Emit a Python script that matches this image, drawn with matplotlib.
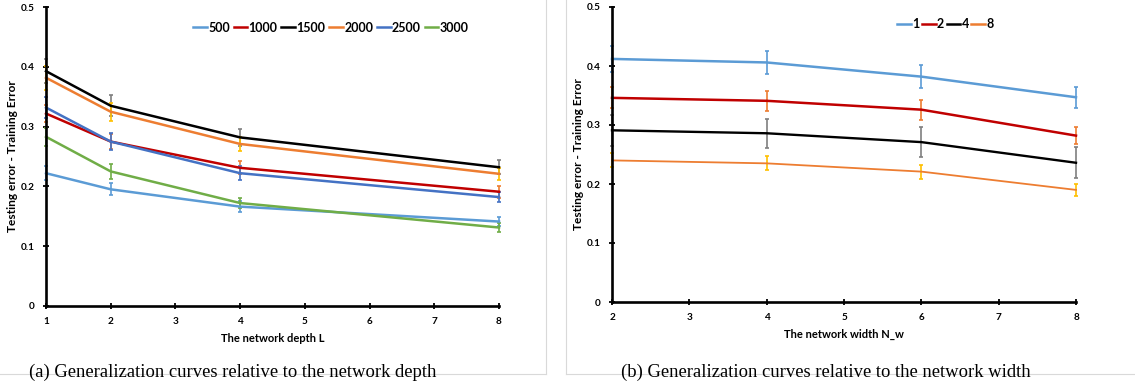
import matplotlib
matplotlib.use("Agg")
import matplotlib.pyplot as plt
from matplotlib.lines import Line2D

plt.rcParams['font.family'] = ['Lato', 'DejaVu Sans']

# (a) depth curves
depth_x = [1, 2, 4, 8]
depth_labels = ['500', '1000', '1500', '2000', '2500', '3000']
d500 = [0.222, 0.195, 0.166, 0.141]
d1000 = [0.322, 0.275, 0.231, 0.191]
d1500 = [0.393, 0.335, 0.282, 0.232]
d2000 = [0.382, 0.325, 0.271, 0.221]
d2500 = [0.332, 0.275, 0.222, 0.182]
d3000 = [0.283, 0.225, 0.172, 0.131]
e500 = [0.012, 0.010, 0.009, 0.008]
e1000 = [0.015, 0.012, 0.011, 0.010]
e1500 = [0.020, 0.0175, 0.0145, 0.012]
e2000 = [0.020, 0.015, 0.012, 0.010]
e2500 = [0.017, 0.0145, 0.012, 0.009]
e3000 = [0.015, 0.012, 0.009, 0.008]

# (b) width curves
width_x = [2, 4, 6, 8]
width_labels = ['1', '2', '4', '8']
w1 = [0.412, 0.406, 0.382, 0.347]
w2 = [0.346, 0.341, 0.326, 0.282]
w4 = [0.291, 0.286, 0.271, 0.236]
w8 = [0.240, 0.235, 0.221, 0.190]
ew1 = [0.022, 0.020, 0.019, 0.018]
ew2 = [0.018, 0.017, 0.017, 0.015]
ew4 = [0.026, 0.025, 0.026, 0.026]
ew8 = [0.012, 0.012, 0.012, 0.010]

line_cols_a = ['#5B9BD5', '#C00000', '#000000', '#ED7D31', '#4472C4', '#70AD47']
err_cols_a = ['#5B9BD5', '#ED7D31', '#7F7F7F', '#FFC000', '#4472C4', '#70AD47']
line_cols_b = ['#5B9BD5', '#C00000', '#000000', '#ED7D31']
err_cols_b = ['#5B9BD5', '#ED7D31', '#7F7F7F', '#FFC000']
lws_b = [1.8, 1.8, 1.7, 1.3]

fig = plt.figure(figsize=(11.35, 3.9), dpi=100)

# panel borders and caption
border = '#d9d9d9'
fig.add_artist(Line2D([0, 546 / 1135], [1 - 374 / 390] * 2, color=border, lw=0.8))
fig.add_artist(Line2D([546 / 1135] * 2, [1 - 374 / 390, 1], color=border, lw=0.8))
fig.add_artist(Line2D([566 / 1135, 1], [1 - 374 / 390] * 2, color=border, lw=0.8))
fig.add_artist(Line2D([566 / 1135] * 2, [1 - 374 / 390, 1], color=border, lw=0.8))
fig.text(233 / 1135, 1 - 372 / 390, '(a) Generalization curves relative to the network depth',
         family='Liberation Serif', fontsize=13.4, ha='center', va='center')
fig.text(826 / 1135, 1 - 372 / 390, '(b) Generalization curves relative to the network width',
         family='Liberation Serif', fontsize=13.4, ha='center', va='center')

ax1 = fig.add_axes([46 / 1135, 1 - 305.7 / 390, 453 / 1135, 298.4 / 390])
ax2 = fig.add_axes([612 / 1135, 1 - 302 / 390, 464 / 1135, 295 / 390])


def style(ax, xmin, xmax, xlabel):
    ax.set_xlim(xmin, xmax)
    ax.set_ylim(0, 0.5)
    ax.set_xticks(range(xmin, xmax + 1))
    ax.set_yticks([0, 0.1, 0.2, 0.3, 0.4, 0.5])
    ax.set_yticklabels(['0', '0.1', '0.2', '0.3', '0.4', '0.5'])
    for s in ['top', 'right']:
        ax.spines[s].set_visible(False)
    for s in ['left', 'bottom']:
        ax.spines[s].set_linewidth(1.9)
    ax.tick_params(direction='inout', length=4, width=1.3, labelsize=7.2, pad=6)
    for lab in ax.get_xticklabels() + ax.get_yticklabels():
        lab.set_fontweight('bold')
    ax.set_xlabel(xlabel, fontsize=8, fontweight='bold', labelpad=5)
    ax.set_ylabel('Testing error - Training Error', fontsize=8.6, fontweight='bold', labelpad=2)


series_a = [d500, d1000, d1500, d2000, d2500, d3000]
errs_a = [e500, e1000, e1500, e2000, e2500, e3000]
for y, e, lc, ec, lab in zip(series_a, errs_a, line_cols_a, err_cols_a, depth_labels):
    ax1.errorbar(depth_x, y, yerr=e, color=lc, ecolor=ec, lw=1.8, elinewidth=1.2,
                 capsize=1.5, capthick=1.2, label=lab, clip_on=False)
style(ax1, 1, 8, 'The network depth L')
h = [Line2D([], [], color=c, lw=1.8) for c in line_cols_a]
ax1.legend(h, depth_labels, loc='upper left', bbox_to_anchor=(0.3, 0.99), ncol=6, frameon=False,
           handlelength=1.1, handletextpad=0.1, columnspacing=0.3,
           prop={'size': 9, 'weight': 'bold'})

series_b = [w1, w2, w4, w8]
errs_b = [ew1, ew2, ew4, ew8]
for y, e, lc, ec, lw, lab in zip(series_b, errs_b, line_cols_b, err_cols_b, lws_b, width_labels):
    ax2.errorbar(width_x, y, yerr=e, color=lc, ecolor=ec, lw=lw, elinewidth=1.2,
                 capsize=1.5, capthick=1.2, label=lab, clip_on=False)
style(ax2, 2, 8, 'The network width N_w')
h = [Line2D([], [], color=c, lw=1.8) for c in line_cols_b]
ax2.legend(h, width_labels, loc='upper left', bbox_to_anchor=(0.59, 1.0), ncol=4, frameon=False,
           handlelength=1.1, handletextpad=0.1, columnspacing=0.2,
           prop={'size': 9, 'weight': 'bold'})

fig.savefig('out.png', dpi=100)
